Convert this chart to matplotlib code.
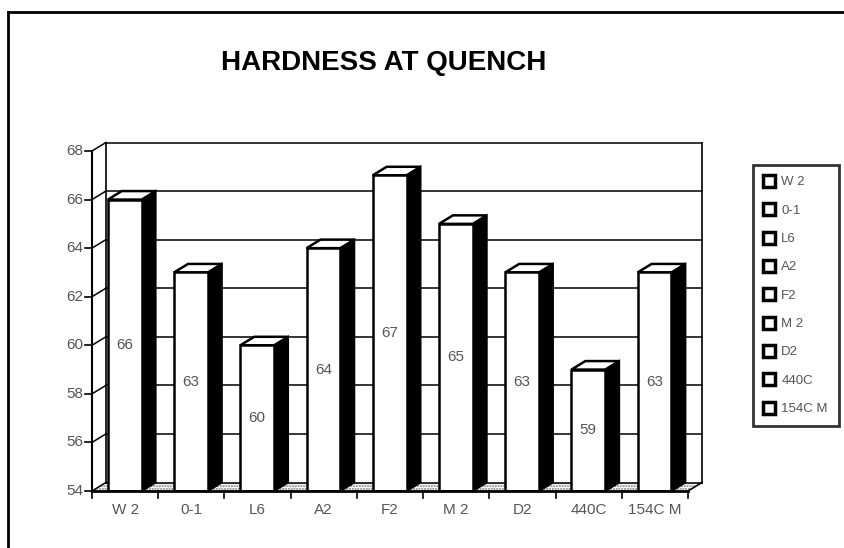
import matplotlib
matplotlib.use("Agg")
import matplotlib.pyplot as plt
from matplotlib.lines import Line2D
import numpy as np

# ---------------------------------------------------------------------------
# Data — Rockwell C hardness at quench, per tool steel
# ---------------------------------------------------------------------------
steels = ["W 2", "0-1", "L6", "A2", "F2", "M 2", "D2", "440C", "154C M"]
hardness = [66, 63, 60, 64, 67, 65, 63, 59, 63]
y_ticks = [54, 56, 58, 60, 62, 64, 66, 68]

YMIN, YMAX = 54, 68
DX, DY = 0.21, 0.35        # 3-D depth offset (category units, hardness units)
BAR_L, BAR_W = 0.24, 0.51  # front face start / width inside a category slot

txt = dict(family="Liberation Sans", color="#555555", fontsize=11)

fig = plt.figure(figsize=(8.45, 5.48), dpi=100)
ax = fig.add_axes([92 / 845, 57 / 548, 596 / 845, 340 / 548])
n = len(steels)
ax.set_xlim(0, n)
ax.set_ylim(YMIN, YMAX)
ax.axis("off")

# ── floor (hatched) ──
ax.fill([0, n, n + DX, DX], [YMIN, YMIN, YMIN + DY, YMIN + DY],
        facecolor="white", edgecolor="#7a7a7a", hatch="......", lw=0,
        zorder=1, clip_on=False)

# ── walls + grid ──
for v in y_ticks:
    ax.plot([DX, n + DX], [v + DY, v + DY], color="black", lw=1.1,
            zorder=1.5, clip_on=False)
    ax.plot([0, DX], [v, v + DY], color="black", lw=1.1, clip_on=False)
    ax.plot([-0.1, 0], [v, v], color="black", lw=1.2, clip_on=False)
    ax.text(-0.13, v, str(v), ha="right", va="center", **txt)
ax.plot([0, 0], [YMIN, YMAX], color="black", lw=1.5, clip_on=False)
ax.plot([DX, DX], [YMIN + DY, YMAX + DY], color="black", lw=1.2, clip_on=False)
ax.plot([n + DX, n + DX], [YMIN + DY, YMAX + DY], color="black", lw=1.2,
        clip_on=False)
ax.plot([n, n + DX], [YMIN, YMIN + DY], color="black", lw=1.2, clip_on=False)

# ── bars ──
xs = np.arange(n) + BAR_L
vals = np.array(hardness)
ax.bar(xs, vals - YMIN, bottom=YMIN, width=BAR_W, align="edge",
       facecolor="white", edgecolor="black", lw=1.8, zorder=4)
for x0, v in zip(xs, hardness):
    x1 = x0 + BAR_W
    ax.fill([x1, x1 + DX, x1 + DX, x1], [YMIN, YMIN + DY, v + DY, v],
            facecolor="black", edgecolor="black", lw=1.5, zorder=3,
            clip_on=False)
    ax.fill([x0, x1, x1 + DX, x0 + DX], [v, v, v + DY, v + DY],
            facecolor="white", edgecolor="black", lw=1.8, zorder=3,
            clip_on=False)
    ax.text(x0 + BAR_W / 2, (YMIN + v) / 2, str(v), ha="center",
            va="center", zorder=5, **txt)

# ── front floor edge, x ticks, category labels ──
ax.plot([0, n], [YMIN, YMIN], color="black", lw=2, zorder=5, clip_on=False)
for i in range(n + 1):
    ax.plot([i, i], [YMIN, YMIN - 0.28], color="black", lw=1.2, clip_on=False)
for i, s in enumerate(steels):
    ax.text(i + 0.5, YMIN - 0.8, s, ha="center", va="center", **txt)

# ── title + page frame ──
fig.text(384 / 845, 1 - 63 / 548, "HARDNESS AT QUENCH", ha="center",
         va="center", fontsize=20, fontweight="bold", family="Liberation Sans")
fig.add_artist(Line2D([8 / 845, 8 / 845], [0, 1 - 12 / 548],
                      transform=fig.transFigure, color="black", lw=2))
fig.add_artist(Line2D([8 / 845, 1], [1 - 12 / 548, 1 - 12 / 548],
                      transform=fig.transFigure, color="black", lw=2))

# ── legend ──
handles = [Line2D([], [], marker="s", linestyle="none", markerfacecolor="white",
                  markeredgecolor="black", markeredgewidth=2.5, markersize=9)
           for _ in steels]
leg = fig.legend(handles, steels, loc="upper left",
                 bbox_to_anchor=(753 / 845, 1 - 165 / 548), borderaxespad=0,
                 frameon=True, fancybox=False, edgecolor="black",
                 labelspacing=1.22, handlelength=0.8, handletextpad=0.5,
                 borderpad=0.85,
                 prop=dict(family="Liberation Sans", size=9.5))
leg.get_frame().set_linewidth(2)
for t in leg.get_texts():
    t.set_color("#555555")

fig.savefig("out.png", dpi=100)
